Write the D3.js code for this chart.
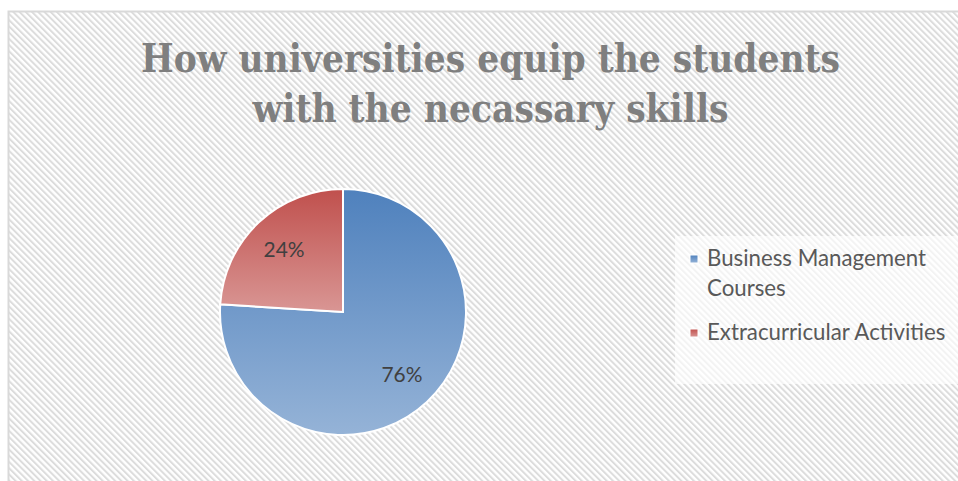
<!DOCTYPE html>
<html>
<head>
<meta charset="utf-8">
<script src="https://cdn.jsdelivr.net/npm/d3@7"></script>
<style>
  html, body { margin: 0; padding: 0; background: #fff; }
  svg { display: block; }
</style>
</head>
<body>
<div id="chart"></div>
<script>
// Données du graphique
const categories = ["Business Management Courses", "Extracurricular Activities"];
const values = [76, 24];
const legendLines = [["Business Management", "Courses"], ["Extracurricular Activities"]];
const titleLines = ["How universities equip the students", "with the necassary skills"];

const width = 958, height = 481;

const svg = d3.select("#chart").append("svg")
    .attr("width", width)
    .attr("height", height);

const defs = svg.append("defs");

// Motif hachuré du fond
const hatch = defs.append("pattern")
    .attr("id", "hatch")
    .attr("patternUnits", "userSpaceOnUse")
    .attr("width", 4.4)
    .attr("height", 4.4)
    .attr("patternTransform", "rotate(-45)");
hatch.append("rect").attr("width", 4.4).attr("height", 4.4).attr("fill", "#ffffff");
hatch.append("rect").attr("width", 2).attr("height", 4.4).attr("fill", "#dcdcdc");

// Dégradés des parts
const gradColors = [["#4f81bd", "#95b3d7"], ["#c0504d", "#d99694"]];
gradColors.forEach((c, i) => {
    const g = defs.append("linearGradient")
        .attr("id", "grad" + i)
        .attr("x1", 0).attr("y1", 0).attr("x2", 0).attr("y2", 1);
    g.append("stop").attr("offset", "0%").attr("stop-color", c[0]);
    g.append("stop").attr("offset", "100%").attr("stop-color", c[1]);
});

// Zone du graphique avec bordure
svg.append("rect")
    .attr("x", 8.5).attr("y", 11.5)
    .attr("width", width + 10).attr("height", height + 10)
    .attr("fill", "url(#hatch)")
    .attr("stroke", "#d9d9d9")
    .attr("stroke-width", 2);

// Ajuste la taille de police pour obtenir la largeur voulue
function fitText(sel, target) {
    const size = +sel.attr("font-size");
    const w = sel.node().getComputedTextLength();
    sel.attr("font-size", size * target / w);
}

// Titre
const titleY = [72, 122];
const titleW = [699, 476];
titleLines.forEach((t, i) => {
    svg.append("text")
        .attr("x", 490.5)
        .attr("y", titleY[i])
        .attr("text-anchor", "middle")
        .attr("font-family", "'DejaVu Serif Condensed', 'DejaVu Serif', serif")
        .attr("font-weight", "bold")
        .attr("font-size", 39)
        .attr("fill", "#7f7f7f")
        .attr("textLength", titleW[i])
        .attr("lengthAdjust", "spacingAndGlyphs")
        .text(t);
});

// Camembert
const cx = 343, cy = 312, r = 123;
const pie = d3.pie().sort(null).value(d => d);
const arc = d3.arc().innerRadius(0).outerRadius(r);
const labelArc = d3.arc().innerRadius(r * 0.7).outerRadius(r * 0.7);
const color = d3.scaleOrdinal().domain(d3.range(categories.length)).range(["url(#grad0)", "url(#grad1)"]);

const pieG = svg.append("g").attr("transform", `translate(${cx},${cy})`);
const arcs = pie(values);

pieG.selectAll("path")
    .data(arcs)
    .enter()
    .append("path")
    .attr("d", arc)
    .attr("fill", (d, i) => color(i))
    .attr("stroke", "#ffffff")
    .attr("stroke-width", 2)
    .attr("stroke-linejoin", "miter");

const total = d3.sum(values);
pieG.selectAll("text")
    .data(arcs)
    .enter()
    .append("text")
    .attr("transform", d => `translate(${labelArc.centroid(d)})`)
    .attr("text-anchor", "middle")
    .attr("dy", "0.35em")
    .attr("font-family", "Lato, 'Open Sans', sans-serif")
    .attr("font-size", 20)
    .attr("fill", "#404040")
    .text(d => Math.round(d.value / total * 100) + "%")
    .each(function () { fitText(d3.select(this), 41); });

// Légende
svg.append("rect")
    .attr("x", 675).attr("y", 236)
    .attr("width", 300).attr("height", 148)
    .attr("fill", "#ffffff")
    .attr("fill-opacity", 0.65);

const legendY = [266, 340];
let legendSize = 20;
categories.forEach((c, i) => {
    const g = svg.append("g");
    g.append("rect")
        .attr("x", 690).attr("y", legendY[i] - 11)
        .attr("width", 8).attr("height", 8)
        .attr("fill", "url(#grad" + i + ")")
        .attr("stroke", "#ffffff")
        .attr("stroke-width", 1);
    const txt = g.append("text")
        .attr("font-family", "Lato, 'Open Sans', sans-serif")
        .attr("font-size", 20)
        .attr("fill", "#595959");
    legendLines[i].forEach((l, j) => {
        txt.append("tspan")
            .attr("x", 707)
            .attr("y", legendY[i] + j * 30)
            .text(l);
    });
    if (i === 0) {
        // mesure de la première ligne pour caler la taille
        const w = txt.select("tspan").node().getComputedTextLength();
        legendSize = 20 * 219 / w;
    }
    txt.attr("font-size", legendSize);
});
</script>
</body>
</html>
